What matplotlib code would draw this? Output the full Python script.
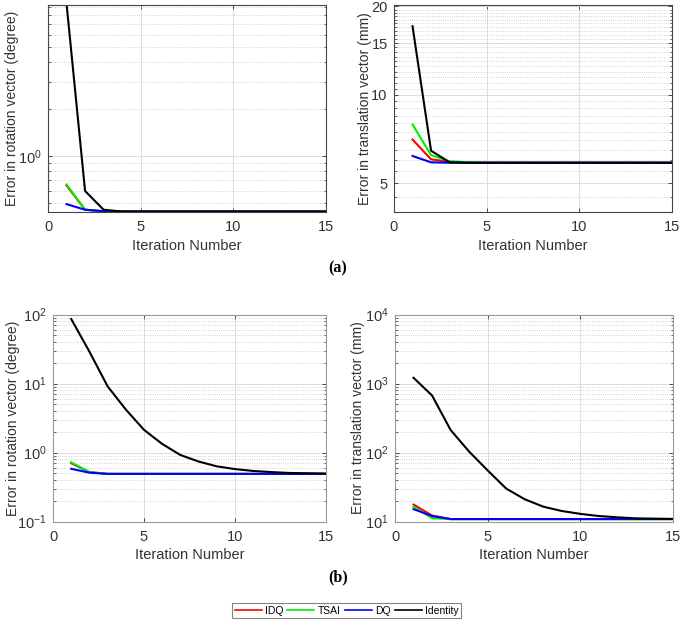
import matplotlib
matplotlib.use('Agg')
import matplotlib.pyplot as plt
import matplotlib.ticker as mticker
from matplotlib.lines import Line2D
import numpy as np

plt.rcParams.update({
    'font.family':      'Liberation Sans',
    'mathtext.default': 'regular',
    'xtick.direction':  'in',
    'ytick.direction':  'in',
    'xtick.color':      '#333333',
    'ytick.color':      '#333333',
    'axes.labelcolor':  '#333333',
})

# ── Data ──
iters = np.arange(1, 16)

# (a) left: rotation error (degree)
a_rot_idq      = [0.65, 0.455, 0.445] + [0.443] * 12
a_rot_tsai     = [0.66, 0.455, 0.445] + [0.443] * 12
a_rot_dq       = [0.494, 0.455, 0.445] + [0.443] * 12
a_rot_identity = [9.5, 0.60, 0.455] + [0.443] * 12

# (a) right: translation error (mm)
a_tr_idq      = [7.05, 6.04, 5.92, 5.89] + [5.88] * 11
a_tr_tsai     = [7.93, 6.24, 5.95, 5.90] + [5.88] * 11
a_tr_dq       = [6.20, 5.90, 5.88, 5.88] + [5.88] * 11
a_tr_identity = [17.1, 6.46, 5.90, 5.88] + [5.88] * 11

# (b) left: rotation error (degree)
b_rot_idq      = [0.70, 0.52] + [0.49] * 13
b_rot_tsai     = [0.72, 0.52] + [0.49] * 13
b_rot_dq       = [0.58, 0.51] + [0.49] * 13
b_rot_identity = [86, 29, 9.1, 4.2, 2.13, 1.33, 0.92, 0.74, 0.63, 0.575,
                  0.54, 0.52, 0.505, 0.50, 0.495]

# (b) right: translation error (mm)
b_tr_idq      = [17.6, 12.2] + [10.85] * 13
b_tr_tsai     = [16.4, 11.2] + [10.8] * 13
b_tr_dq       = [15.1, 12.0] + [10.85] * 13
b_tr_identity = [1210, 670, 212, 103, 55, 30, 21, 16.4, 14.2, 12.9,
                 12.0, 11.5, 11.1, 11.0, 10.9]

labels = ['IDQ', 'TSAI', 'DQ', 'Identity']
colors = ['#ff0000', '#00ee00', '#0000ff', '#000000']

W, H = 685, 623
fig = plt.figure(figsize=(W / 100, H / 100), dpi=100)
fig.patch.set_facecolor('white')


def px_axes(x0, y0, x1, y1):
    return fig.add_axes([x0 / W, 1 - y1 / H, (x1 - x0) / W, (y1 - y0) / H])


def style(ax, ylabel, edge, ylab_x, xlab_y):
    ax.set_xlim(0, 15)
    ax.set_xticks([0, 5, 10, 15])
    ax.set_xlabel('Iteration Number', fontsize=10.5)
    ax.set_ylabel(ylabel, fontsize=10)
    ax.yaxis.set_label_coords(ylab_x, 0.5)
    ax.xaxis.set_label_coords(0.5, xlab_y)
    ax.xaxis.label.set_va('center')
    ax.yaxis.label.set_va('center')
    ax.tick_params(labelsize=10.5, length=3, width=0.6, top=True, right=True)
    ax.tick_params(axis='x', pad=6)
    ax.tick_params(axis='y', pad=4.5)
    ax.tick_params(which='minor', length=1.8, width=0.5, right=True)
    ax.grid(True, which='major', color='#dcdcdc', lw=0.7, ls='-')
    ax.grid(True, which='minor', axis='y', color='#c8c8c8', lw=0.6, ls=':')
    ax.set_axisbelow(True)
    for s in ax.spines.values():
        s.set_color(edge)
        s.set_linewidth(0.8)


def draw(ax, series):
    for vals, c in zip(series, colors):
        ax.plot(iters, vals, color=c, lw=1.5)


# ── (a) left ──
ax = px_axes(48, 5, 326, 212)
ax.set_yscale('log')
draw(ax, [a_rot_idq, a_rot_tsai, a_rot_dq, a_rot_identity])
ax.set_ylim(0.44, 9.3)
ax.yaxis.set_minor_formatter(mticker.NullFormatter())
style(ax, 'Error in rotation vector (degree)', '#444444', -0.129, -0.164)

# ── (a) right ──
ax = px_axes(394, 5, 672, 212)
ax.set_yscale('log')
draw(ax, [a_tr_idq, a_tr_tsai, a_tr_dq, a_tr_identity])
ax.set_ylim(4, 20.2)
ax.yaxis.set_major_locator(mticker.FixedLocator([5, 10, 15, 20]))
ax.yaxis.set_major_formatter(mticker.FixedFormatter(['5', '10', '15', '20']))
minor = [v for v in np.arange(4, 20.01, 0.5) if v not in (5, 10, 15, 20)]
ax.yaxis.set_minor_locator(mticker.FixedLocator(minor))
ax.yaxis.set_minor_formatter(mticker.NullFormatter())
style(ax, 'Error in translation vector (mm)', '#444444', -0.104, -0.164)

# ── (b) left ──
ax = px_axes(53, 314.5, 326, 521.5)
ax.set_yscale('log')
draw(ax, [b_rot_idq, b_rot_tsai, b_rot_dq, b_rot_identity])
ax.set_ylim(0.1, 100)
ax.yaxis.set_major_locator(mticker.LogLocator(base=10))
ax.yaxis.set_minor_formatter(mticker.NullFormatter())
style(ax, 'Error in rotation vector (degree)', '#999999', -0.148, -0.162)

# ── (b) right ──
ax = px_axes(395, 314.5, 673, 521.5)
ax.set_yscale('log')
draw(ax, [b_tr_idq, b_tr_tsai, b_tr_dq, b_tr_identity])
ax.set_ylim(10, 10000)
ax.yaxis.set_major_locator(mticker.LogLocator(base=10))
ax.yaxis.set_minor_formatter(mticker.NullFormatter())
style(ax, 'Error in translation vector (mm)', '#999999', -0.133, -0.162)

# ── panel captions ──
fig.text(338 / W, 1 - 268 / H, '(a)', fontsize=11.5, fontweight='bold',
         family='Liberation Serif', ha='center', va='center')
fig.text(338 / W, 1 - 577 / H, '(b)', fontsize=11.5, fontweight='bold',
         family='Liberation Serif', ha='center', va='center')

# ── shared legend ──
handles = [Line2D([], [], color=c, lw=1.2) for c in colors]
leg = fig.legend(handles, labels, loc='center', bbox_to_anchor=(346.5 / W, 1 - 610.5 / H),
                 ncol=4, fontsize=7.5, frameon=True, fancybox=False,
                 handlelength=2.6, handletextpad=0.3, columnspacing=0.4,
                 borderpad=0.25, borderaxespad=0)
leg.get_frame().set_edgecolor('#666666')
leg.get_frame().set_linewidth(0.8)

plt.savefig('out.png', dpi=100, facecolor='white')
